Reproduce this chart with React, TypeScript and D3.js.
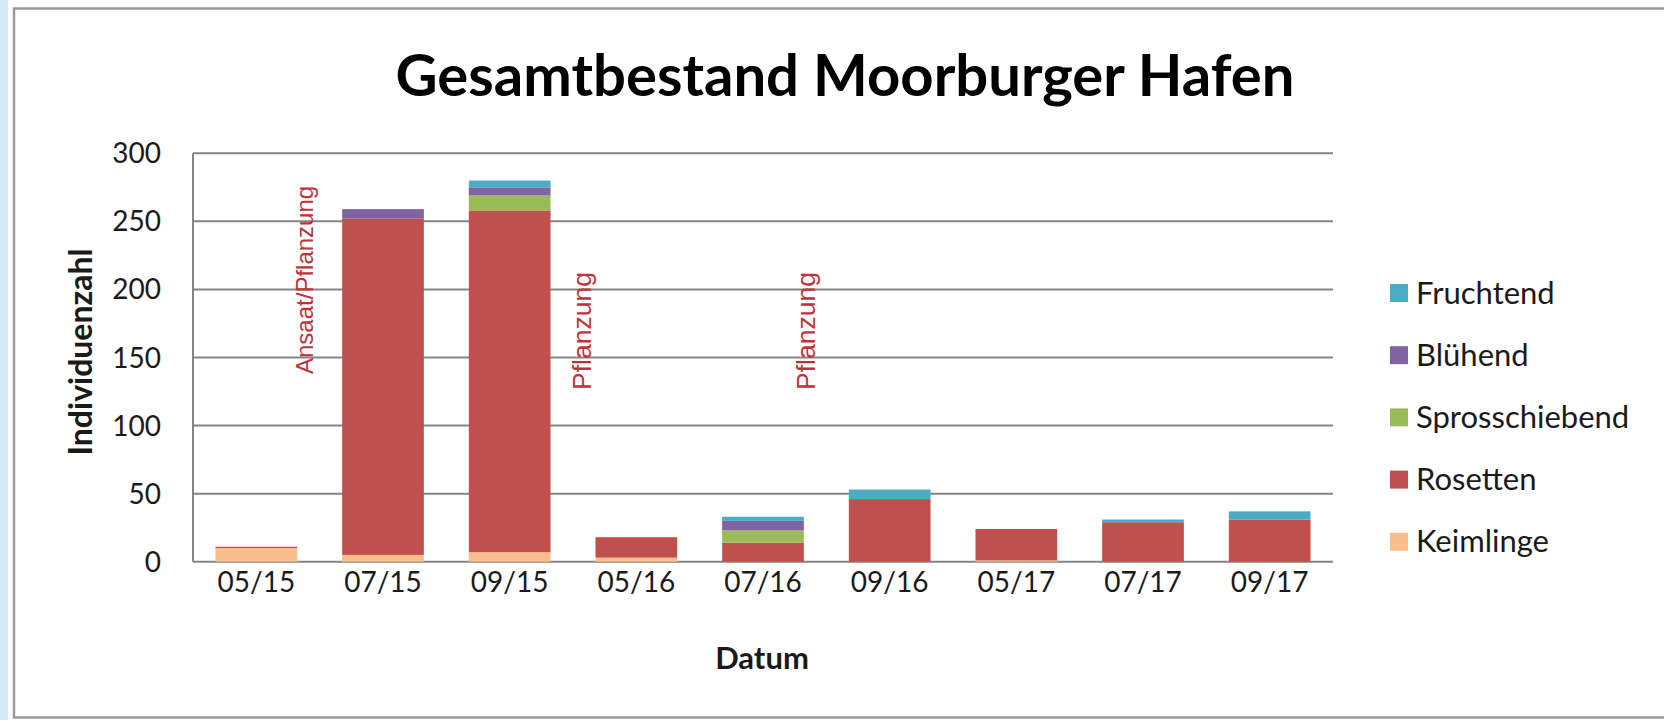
import React, { useEffect } from "react";
import * as d3 from "d3";

const categories = ["05/15", "07/15", "09/15", "05/16", "07/16", "09/16", "05/17", "07/17", "09/17"];

// stacked from bottom to top
const keimlinge = [10, 5, 7, 3, 0, 0, 1, 0, 0];
const rosetten = [1, 247, 251, 15, 14, 46, 23, 29, 31];
const sprosschiebend = [0, 0, 11, 0, 9, 0, 0, 0, 0];
const bluehend = [0, 7, 6, 0, 7, 0, 0, 0, 0];
const fruchtend = [0, 0, 5, 0, 3, 7, 0, 2, 6];

const seriesNames = ["Keimlinge", "Rosetten", "Sprosschiebend", "Blühend", "Fruchtend"];
const seriesColors = ["#F9BE8C", "#C0504D", "#9BBB59", "#8064A2", "#4BACC6"];

const yTicks = [0, 50, 100, 150, 200, 250, 300];

// annotation positions in category units from the left edge of the plot
const annotationLabels = ["Ansaat/Pflanzung", "Pflanzung", "Pflanzung"];
const annotationPos = [0.95, 3.14, 4.91];
const annotationBottom = [374, 390, 390];
const annotationSize = [24, 26.5, 26.5];

const W = 1664;
const H = 720;
const plot = { left: 193, right: 1333, top: 153.3, bottom: 561.7 };

export default function App() {
  useEffect(() => {
    document.documentElement.style.overflow = "hidden";
    document.body.style.overflow = "hidden";
    document.body.style.margin = "0";
  }, []);

  const seriesValues = [keimlinge, rosetten, sprosschiebend, bluehend, fruchtend];
  const rows = categories.map((c, i) => {
    const row: Record<string, any> = { cat: c };
    seriesNames.forEach((s, k) => (row[s] = seriesValues[k][i]));
    return row;
  });
  const stacked = d3.stack().keys(seriesNames)(rows as any);

  const x = d3
    .scaleBand()
    .domain(categories)
    .range([plot.left, plot.right])
    .paddingInner(0.355)
    .paddingOuter(0.1775);
  const xUnits = d3.scaleLinear().domain([0, categories.length]).range([plot.left, plot.right]);
  const y = d3.scaleLinear().domain([0, 300]).range([plot.bottom, plot.top]);

  const font = "Lato, 'Open Sans', sans-serif";
  const textColor = "#1a1a1a";

  return (
    <div style={{ position: "fixed", left: 0, top: 0, width: W, height: H, overflow: "hidden" }}>
      <svg width={W} height={H} style={{ display: "block", background: "#fff" }}>
        <rect x={0} y={0} width={8} height={H} fill="#d3ebfb" />
        {/* chart frame, open on the right (runs past the picture edge) */}
        <path d={`M${W},8.5 H14 V717.5 H${W}`} fill="none" stroke="#9a9a9a" strokeWidth={2.5} />

        <text
          x={845}
          y={96}
          textAnchor="middle"
          fontFamily={font}
          fontWeight={700}
          fontSize={58}
          fill="#000"
        >
          Gesamtbestand Moorburger Hafen
        </text>

        {/* gridlines */}
        {yTicks.map((t) => (
          <line
            key={t}
            x1={plot.left}
            x2={plot.right}
            y1={y(t)}
            y2={y(t)}
            stroke="#858585"
            strokeWidth={2}
          />
        ))}
        <line x1={plot.left} x2={plot.left} y1={plot.top} y2={plot.bottom} stroke="#858585" strokeWidth={2} />

        {yTicks.map((t) => (
          <text
            key={"yl" + t}
            x={161}
            y={y(t) + 10}
            textAnchor="end"
            fontFamily={font}
            fontSize={28}
            fill={textColor}
          >
            {t}
          </text>
        ))}

        {/* bars */}
        {stacked.map((layer, k) => (
          <g key={layer.key} fill={seriesColors[k]}>
            {layer.map((d, i) =>
              d[1] - d[0] > 0 ? (
                <rect
                  key={i}
                  x={x(categories[i])}
                  width={x.bandwidth()}
                  y={y(d[1])}
                  height={y(d[0]) - y(d[1])}
                />
              ) : null
            )}
          </g>
        ))}

        {/* annotations */}
        {annotationLabels.map((lab, i) => (
          <text
            key={"an" + i}
            transform={`translate(${xUnits(annotationPos[i])},${annotationBottom[i]}) rotate(-90)`}
            fontFamily="'Liberation Sans', Arial, sans-serif"
            fontSize={annotationSize[i]}
            fill="#C0313A"
          >
            {lab}
          </text>
        ))}

        {categories.map((c) => (
          <text
            key={"xl" + c}
            x={x(c)! + x.bandwidth() / 2}
            y={582 + 10}
            textAnchor="middle"
            fontFamily={font}
            fontSize={28}
            fill={textColor}
          >
            {c}
          </text>
        ))}

        <text x={762} y={669} textAnchor="middle" fontFamily={font} fontWeight={700} fontSize={31} fill={textColor}>
          Datum
        </text>
        <text
          transform={`translate(92,352) rotate(-90)`}
          textAnchor="middle"
          fontFamily={font}
          fontWeight={700}
          fontSize={32}
          fill={textColor}
        >
          Individuenzahl
        </text>

        {/* legend, top to bottom */}
        {seriesNames
          .map((s, k) => ({ s, k }))
          .reverse()
          .map(({ s, k }, j) => (
            <g key={s} transform={`translate(1390,${293 + j * 62.2})`}>
              <rect x={0} y={-9} width={18} height={18} fill={seriesColors[k]} />
              <text x={26} y={10.5} fontFamily={font} fontSize={31} fill={textColor}>
                {s}
              </text>
            </g>
          ))}
      </svg>
    </div>
  );
}
